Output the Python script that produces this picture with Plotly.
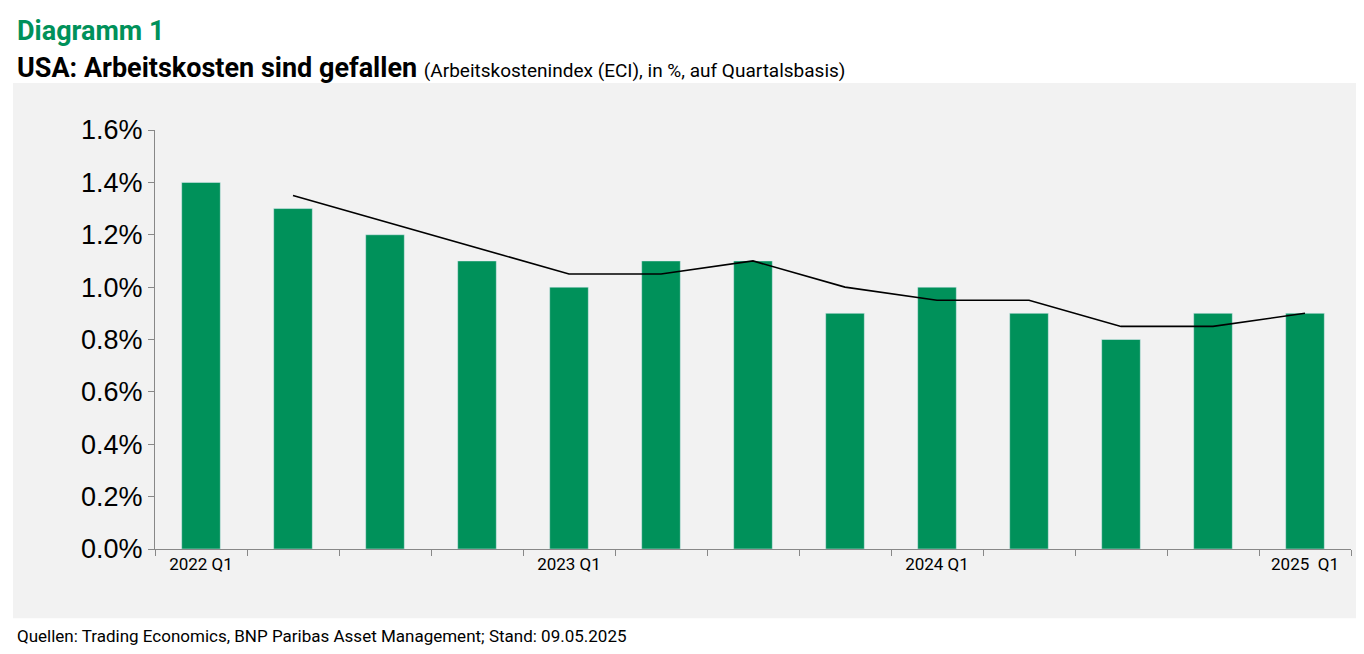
import plotly.graph_objects as go

quarters = ["2022 Q1", "2022 Q2", "2022 Q3", "2022 Q4",
            "2023 Q1", "2023 Q2", "2023 Q3", "2023 Q4",
            "2024 Q1", "2024 Q2", "2024 Q3", "2024 Q4",
            "2025 Q1"]
eci = [1.4, 1.3, 1.2, 1.1, 1.0, 1.1, 1.1, 0.9, 1.0, 0.9, 0.8, 0.9, 0.9]
eci_avg = [None, 1.35, 1.25, 1.15, 1.05, 1.05, 1.1, 1.0, 0.95, 0.95, 0.85, 0.85, 0.9]
tick_labels = ["2022 Q1", "", "", "", "2023 Q1", "", "", "", "2024 Q1", "", "", "", "2025  Q1"]

green = "#00915A"

fig = go.Figure()
fig.add_trace(go.Bar(x=quarters, y=eci, marker_color=green, width=0.42, name="ECI"))
fig.add_trace(go.Scatter(x=quarters, y=eci_avg, mode="lines",
                         line={"color": "black", "width": 1.6}, name="Durchschnitt"))

# grey panel behind the chart
fig.add_shape(type="rect", xref="paper", yref="paper",
              x0=-0.1187, x1=1.0125, y0=-0.165, y1=1.112,
              fillcolor="#f2f2f2", line={"width": 0}, layer="below")

fig.add_annotation(text="<b>Diagramm 1</b>", xref="paper", yref="paper",
                   x=-0.117, y=1.279, xanchor="left", yanchor="top", showarrow=False,
                   font={"family": "Roboto", "size": 27, "color": green})
fig.add_annotation(
    text="<b>USA: Arbeitskosten sind gefallen</b> <span style='font-size:19px'>(Arbeitskostenindex (ECI), in %, auf Quartalsbasis)</span>",
    xref="paper", yref="paper", x=-0.117, y=1.19, xanchor="left", yanchor="top",
    showarrow=False, font={"family": "Roboto", "size": 27, "color": "black"})
fig.add_annotation(
    text="Quellen: Trading Economics, BNP Paribas Asset Management; Stand: 09.05.2025",
    xref="paper", yref="paper", x=-0.117, y=-0.18, xanchor="left", yanchor="top",
    showarrow=False, font={"family": "Roboto", "size": 17, "color": "black"})

fig.update_layout(
    width=1364, height=654,
    margin={"l": 147, "r": 21, "t": 122, "b": 113},
    paper_bgcolor="white", plot_bgcolor="rgba(0,0,0,0)",
    showlegend=False,
)
fig.update_xaxes(
    tickvals=quarters, ticktext=tick_labels, tickangle=0, automargin=False,
    ticks="outside", tickson="boundaries", ticklen=6, tickcolor="#888",
    showline=True, linecolor="#888", showgrid=False,
    tickfont={"family": "Roboto", "size": 17, "color": "black"},
    range=[-0.5, 12.5],
)
fig.update_yaxes(
    range=[0, 1.6], automargin=False,
    tickvals=[0, 0.2, 0.4, 0.6, 0.8, 1.0, 1.2, 1.4, 1.6],
    ticktext=["0.0%", "0.2%", "0.4%", "0.6%", "0.8%", "1.0%", "1.2%", "1.4%", "1.6%"],
    ticks="outside", ticklen=6, tickcolor="#888",
    showline=True, linecolor="#888", showgrid=False, zeroline=False,
    tickfont={"family": "Liberation Sans", "size": 27, "color": "black"},
)

fig.write_html("out.html")
